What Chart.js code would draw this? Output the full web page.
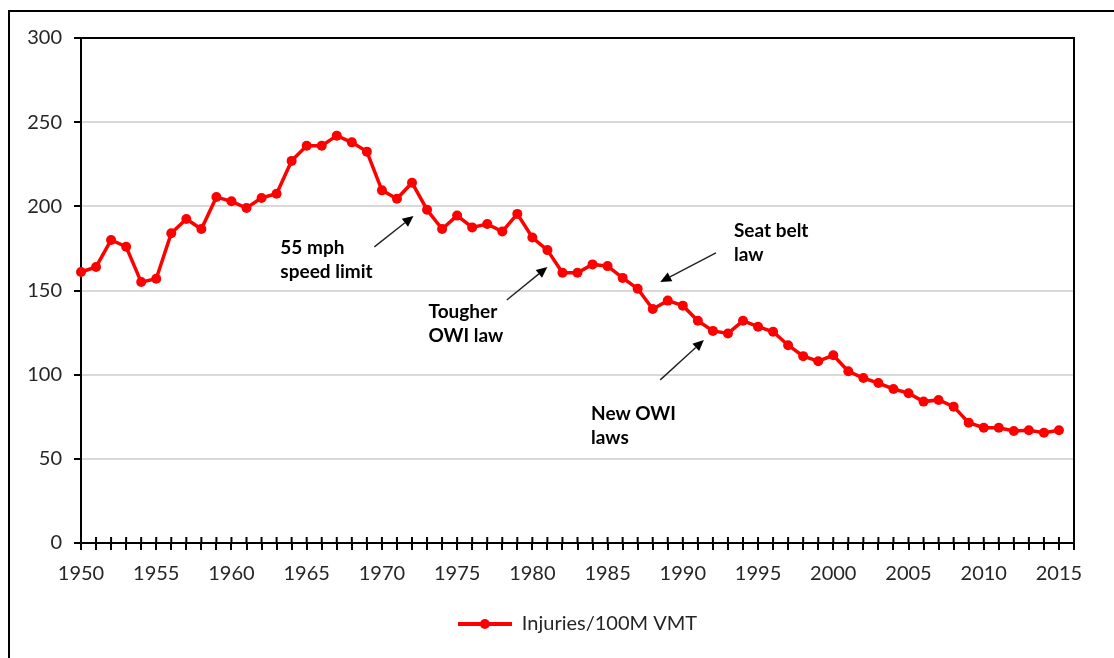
<!DOCTYPE html>
<html>
<head>
<meta charset="utf-8">
<script src="https://cdn.jsdelivr.net/npm/chart.js@4.4.0/dist/chart.umd.min.js"></script>
<style>
  html, body { margin: 0; padding: 0; background: #fff; }
  #wrap { width: 1114px; height: 658px; }
</style>
</head>
<body>
<div id="wrap"><canvas id="injuryChart" width="1114" height="658"></canvas></div>
<script>
// Injuries per 100 million vehicle miles travelled, 1950-2015
const years = Array.from({ length: 66 }, (_, i) => 1950 + i);
const injuries = [
  161, 164, 180, 176, 155, 157, 184, 192.5, 186.5, 205.5,
  203, 199, 205, 207.5, 227, 236, 236, 242, 238, 232.5,
  209.5, 204.5, 214, 198, 186.5, 194.5, 187.5, 189.5, 185, 195.5,
  181.5, 174, 160.5, 160.5, 165.5, 164.5, 157.5, 151, 139, 144,
  141, 132, 126, 124.5, 132, 128.5, 125.5, 117.5, 111, 108,
  111.5, 102, 98, 95, 91.5, 89, 84, 85, 81, 71.5,
  68.5, 68.5, 66.5, 67, 65.5, 67
];
const yTicks = [0, 50, 100, 150, 200, 250, 300];
const seriesName = 'Injuries/100M VMT';

// call-outs, placed in data units (year, value)
const notes = [
  { lines: ['55 mph', 'speed limit'], at: [1963.25, 171.7], from: [1969.5, 175.9], to: [1972.1, 194.3] },
  { lines: ['Tougher', 'OWI law'], at: [1973.1, 133.7], from: [1978.3, 144.4], to: [1981.0, 164.0] },
  { lines: ['Seat belt', 'law'], at: [1993.4, 181.8], from: [1992.2, 172.3], to: [1988.5, 155.1] },
  { lines: ['New OWI', 'laws'], at: [1983.9, 73.1], from: [1988.5, 96.9], to: [1991.4, 120.6] }
];

const RED = '#ff0000';

// legend icon: line with a dot, like the office chart
function makeLegendIcon() {
  const c = document.createElement('canvas');
  c.width = 54; c.height = 12;
  const g = c.getContext('2d');
  g.strokeStyle = RED; g.lineWidth = 4;
  g.beginPath(); g.moveTo(0, 6); g.lineTo(54, 6); g.stroke();
  g.fillStyle = RED;
  g.beginPath(); g.arc(27, 6, 5, 0, Math.PI * 2); g.fill();
  return c;
}
const legendIcon = makeLegendIcon();

function drawArrow(ctx, x1, y1, x2, y2) {
  const ang = Math.atan2(y2 - y1, x2 - x1);
  const len = 11, half = 5;
  const bx = x2 - Math.cos(ang) * len, by = y2 - Math.sin(ang) * len;
  ctx.strokeStyle = '#222';
  ctx.lineWidth = 1.4;
  ctx.beginPath(); ctx.moveTo(x1, y1); ctx.lineTo(bx, by); ctx.stroke();
  ctx.fillStyle = '#000';
  ctx.beginPath();
  ctx.moveTo(x2, y2);
  ctx.lineTo(bx + Math.sin(ang) * half, by - Math.cos(ang) * half);
  ctx.lineTo(bx - Math.sin(ang) * half, by + Math.cos(ang) * half);
  ctx.closePath(); ctx.fill();
}

const extras = {
  id: 'extras',
  beforeDraw(chart) {
    const ctx = chart.ctx;
    ctx.save();
    ctx.fillStyle = '#fff';
    ctx.fillRect(0, 0, chart.width, chart.height);
    // outer frame (cut off at right and bottom)
    ctx.strokeStyle = '#000'; ctx.lineWidth = 2;
    ctx.beginPath();
    ctx.moveTo(9, chart.height); ctx.lineTo(9, 11); ctx.lineTo(chart.width, 11);
    ctx.stroke();
    ctx.restore();
  },
  afterDraw(chart) {
    const ctx = chart.ctx;
    const area = chart.chartArea;
    const xs = chart.scales.x, ys = chart.scales.y;
    ctx.save();
    // top and right edges of the plot
    ctx.strokeStyle = '#000'; ctx.lineWidth = 2;
    ctx.beginPath();
    ctx.moveTo(area.left, area.top); ctx.lineTo(area.right, area.top); ctx.lineTo(area.right, area.bottom);
    ctx.stroke();
    // upper half of the crossing tick marks
    ctx.beginPath();
    xs.ticks.forEach(t => {
      const px = xs.getPixelForValue(t.value);
      ctx.moveTo(px, area.bottom - 6); ctx.lineTo(px, area.bottom);
    });
    ctx.stroke();
    // call-outs
    ctx.font = 'bold 19px Lato';
    ctx.fillStyle = '#000';
    ctx.textBaseline = 'alphabetic';
    notes.forEach(n => {
      const tx = xs.getPixelForValue(n.at[0]), ty = ys.getPixelForValue(n.at[1]);
      n.lines.forEach((l, i) => ctx.fillText(l, tx, ty + i * 24));
      drawArrow(ctx,
        xs.getPixelForValue(n.from[0]), ys.getPixelForValue(n.from[1]),
        xs.getPixelForValue(n.to[0]), ys.getPixelForValue(n.to[1]));
    });
    ctx.restore();
  }
};

Chart.defaults.font.family = 'Lato';
Chart.defaults.font.size = 20;
Chart.defaults.color = '#262626';

const ctx = document.getElementById('injuryChart').getContext('2d');
new Chart(ctx, {
  type: 'line',
  data: {
    datasets: [{
      label: seriesName,
      data: years.map((y, i) => ({ x: y, y: injuries[i] })),
      borderColor: RED,
      backgroundColor: RED,
      borderWidth: 3.5,
      pointRadius: 5,
      pointBorderWidth: 0,
      pointBackgroundColor: RED,
      tension: 0,
      clip: false
    }]
  },
  options: {
    responsive: false,
    animation: false,
    layout: { padding: { top: 38, right: 40, left: 0, bottom: 14 } },
    scales: {
      x: {
        type: 'linear',
        min: 1950,
        max: 2016,
        grid: { drawOnChartArea: false, drawTicks: true, tickLength: 7, tickColor: '#000', lineWidth: 2 },
        border: { color: '#000', width: 2 },
        ticks: {
          stepSize: 1,
          autoSkip: false,
          maxRotation: 0,
          maxTicksLimit: 100,
          padding: 12,
          callback: v => (v % 5 === 0 && v <= years[years.length - 1]) ? String(v) : ''
        },
        afterFit: s => { s.height = 61; }
      },
      y: {
        min: yTicks[0],
        max: yTicks[yTicks.length - 1],
        grid: { color: '#d9d9d9', lineWidth: 2, tickColor: '#000', tickLength: 7, tickWidth: 2 },
        border: { color: '#000', width: 2 },
        ticks: { stepSize: 50, padding: 12 },
        afterFit: s => { s.width = 81; }
      }
    },
    plugins: {
      tooltip: { enabled: false },
      legend: {
        position: 'bottom',
        fullSize: false,
        labels: {
          usePointStyle: true,
          pointStyleWidth: 54,
          padding: 10,
          color: '#262626',
          generateLabels: chart => {
            const items = Chart.defaults.plugins.legend.labels.generateLabels(chart);
            items.forEach(it => { it.pointStyle = legendIcon; });
            return items;
          }
        }
      }
    }
  },
  plugins: [extras]
});
</script>
</body>
</html>
